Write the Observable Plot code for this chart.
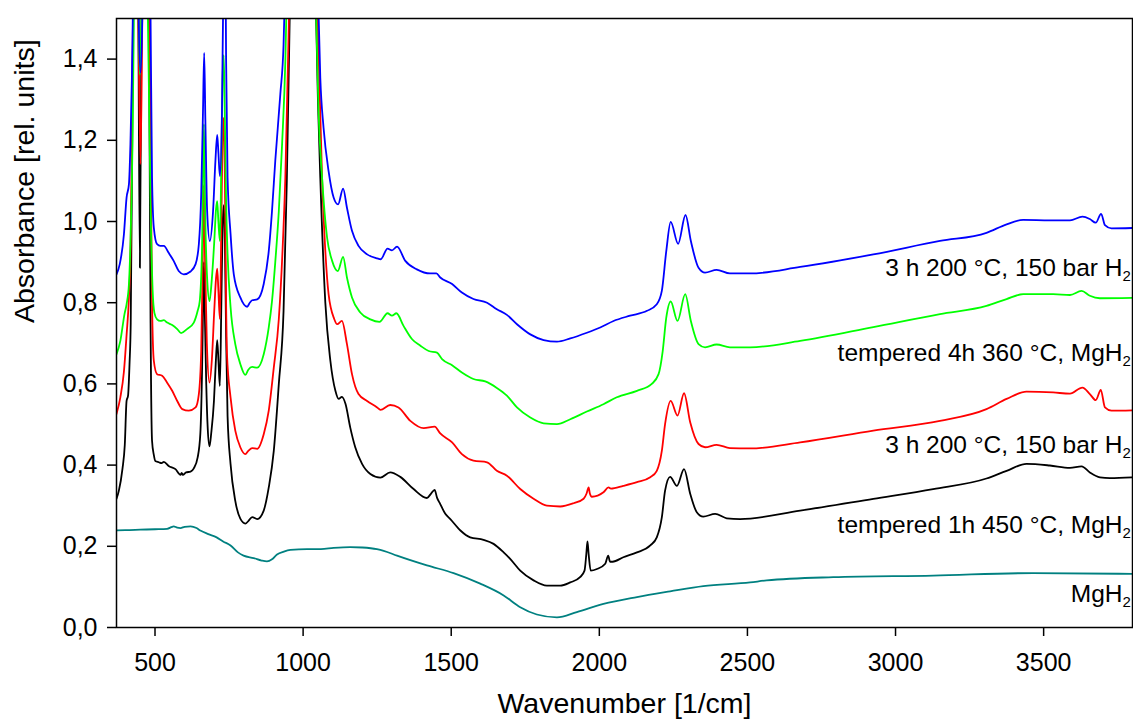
<!DOCTYPE html>
<html>
<head>
<meta charset="utf-8">
<script src="https://cdn.jsdelivr.net/npm/d3@7"></script>
<script src="https://cdn.jsdelivr.net/npm/@observablehq/plot@0.6"></script>
<style>
  html, body { margin: 0; padding: 0; background: #fff; }
  #chart { width: 1133px; height: 727px; }
</style>
</head>
<body>
<div id="chart"></div>
<script>
// ---- data (wavenumber [1/cm], absorbance) ----
const xTicks = [500, 1000, 1500, 2000, 2500, 3000, 3500];
const yTicks = [0, 0.2, 0.4, 0.6, 0.8, 1.0, 1.2, 1.4];
const xTitle = "Wavenumber [1/cm]";
const yTitle = "Absorbance [rel. units]";

const seriesNames = ["MgH2", "tempered 1h 450 °C, MgH2", "3 h 200 °C, 150 bar H2 (after 1h 450 °C)", "tempered 4h 360 °C, MgH2", "3 h 200 °C, 150 bar H2 (after 4h 360 °C)"];
const seriesColors = ["#008080", "#000000", "#ff0000", "#00ff00", "#0000ff"];

const labelText = ["3 h 200 °C, 150 bar H", "tempered 4h 360 °C, MgH", "3 h 200 °C, 150 bar H", "tempered 1h 450 °C, MgH", "MgH"];
const labelY = [0.886, 0.676, 0.45, 0.253, 0.081];

const teal = [[370,0.239],[400,0.240],[450,0.241],[500,0.242],[541,0.243],[555,0.247],[563,0.249],[575,0.246],[586,0.245],[600,0.248],[620,0.249],[640,0.245],[653,0.239],[680,0.23],[708,0.222],[730,0.212],[755,0.202],[780,0.185],[799,0.177],[833,0.171],[860,0.165],[878,0.163],[895,0.168],[912,0.18],[935,0.187],[957,0.191],[1013,0.193],[1060,0.193],[1103,0.196],[1159,0.198],[1200,0.197],[1249,0.193],[1272,0.189],[1317,0.177],[1418,0.153],[1508,0.134],[1598,0.108],[1677,0.079],[1733,0.05],[1789,0.032],[1857,0.025],[1924,0.038],[2014,0.058],[2127,0.075],[2239,0.089],[2351,0.102],[2509,0.111],[2565,0.116],[2790,0.124],[3127,0.128],[3465,0.134],[3801,0.132]];

const black = [[370,0.317],[378,0.337],[390,0.39],[398,0.45],[404,0.558],[409,0.571],[414,0.65],[418,0.75],[423,1.2],[427,1.6],[435,2.2],[443,1.6],[449,0.886],[455,1.6],[465,2.3],[476,1.8],[481,1.3],[485,0.75],[490,0.46],[496,0.425],[501,0.41],[513,0.407],[522,0.405],[530,0.408],[546,0.398],[569,0.39],[586,0.376],[590,0.381],[594,0.376],[605,0.382],[620,0.384],[631,0.392],[644,0.419],[653,0.477],[659,0.64],[662,0.78],[665,0.9],[668,0.78],[673,0.6],[678,0.49],[684,0.446],[690,0.48],[699,0.558],[705,0.65],[710,0.708],[714,0.66],[719,0.595],[724,0.8],[728,0.98],[732,1.04],[736,0.95],[740,0.72],[745,0.52],[755,0.403],[771,0.312],[788,0.268],[805,0.256],[815,0.262],[828,0.272],[845,0.267],[867,0.288],[884,0.345],[901,0.435],[918,0.6],[934,0.78],[945,1.1],[957,1.6],[980,2.5],[1020,2.5],[1041,1.6],[1050,1.3],[1058,1.108],[1075,0.8],[1092,0.657],[1109,0.583],[1120,0.563],[1131,0.568],[1143,0.551],[1159,0.493],[1176,0.444],[1199,0.403],[1227,0.378],[1261,0.369],[1294,0.382],[1328,0.371],[1373,0.341],[1418,0.319],[1432,0.33],[1444,0.339],[1452,0.32],[1463,0.304],[1480,0.28],[1497,0.267],[1531,0.239],[1564,0.222],[1609,0.216],[1643,0.206],[1677,0.185],[1699,0.169],[1733,0.14],[1778,0.116],[1823,0.103],[1868,0.103],[1902,0.111],[1935,0.124],[1950,0.14],[1956,0.18],[1960,0.212],[1964,0.18],[1971,0.14],[1992,0.144],[2020,0.157],[2030,0.177],[2036,0.162],[2045,0.162],[2081,0.173],[2127,0.185],[2172,0.202],[2194,0.222],[2211,0.271],[2222,0.337],[2239,0.371],[2262,0.349],[2286,0.39],[2307,0.329],[2329,0.284],[2351,0.273],[2391,0.28],[2430,0.269],[2475,0.267],[2678,0.288],[2925,0.317],[3127,0.341],[3307,0.367],[3375,0.386],[3442,0.403],[3521,0.399],[3589,0.393],[3628,0.397],[3656,0.382],[3690,0.37],[3724,0.368],[3801,0.37]];

const red = [[370,0.526],[383,0.567],[395,0.63],[404,0.72],[412,0.813],[418,0.95],[423,1.3],[427,1.6],[436,2.2],[444,1.5],[451,1.141],[457,1.5],[466,2.3],[478,1.8],[485,1.2],[490,0.8],[496,0.657],[507,0.624],[524,0.62],[541,0.603],[558,0.583],[575,0.558],[592,0.538],[614,0.534],[637,0.542],[648,0.575],[656,0.681],[661,0.9],[665,1.09],[669,0.9],[675,0.7],[684,0.603],[692,0.66],[700,0.78],[706,0.86],[710,0.884],[714,0.83],[719,0.76],[724,1.0],[728,1.2],[732,1.255],[736,1.1],[740,0.8],[743,0.673],[755,0.567],[771,0.485],[788,0.444],[805,0.427],[815,0.435],[828,0.442],[845,0.44],[867,0.476],[884,0.534],[901,0.64],[918,0.76],[930,0.92],[940,1.108],[955,1.6],[980,2.5],[1020,2.5],[1045,1.6],[1064,1.108],[1086,0.821],[1105,0.76],[1115,0.747],[1131,0.755],[1148,0.698],[1165,0.624],[1187,0.575],[1216,0.558],[1250,0.542],[1261,0.536],[1294,0.548],[1322,0.542],[1362,0.509],[1407,0.491],[1444,0.495],[1463,0.478],[1503,0.456],[1536,0.427],[1575,0.411],[1621,0.407],[1654,0.386],[1688,0.374],[1733,0.341],[1778,0.317],[1823,0.3],[1868,0.298],[1913,0.306],[1947,0.317],[1957,0.33],[1964,0.345],[1968,0.33],[1975,0.322],[2014,0.333],[2031,0.345],[2039,0.342],[2081,0.349],[2127,0.358],[2172,0.37],[2194,0.386],[2211,0.435],[2222,0.501],[2241,0.558],[2264,0.522],[2286,0.577],[2307,0.505],[2335,0.452],[2357,0.444],[2396,0.45],[2441,0.442],[2509,0.441],[2678,0.456],[2925,0.485],[3150,0.509],[3307,0.538],[3375,0.563],[3442,0.581],[3532,0.579],[3589,0.576],[3631,0.591],[3656,0.575],[3676,0.56],[3693,0.585],[3707,0.542],[3729,0.534],[3801,0.535]];

const green = [[370,0.673],[383,0.706],[397,0.772],[404,0.796],[412,0.846],[417,0.944],[424,1.19],[430,1.6],[438,2.2],[445,1.5],[449,1.362],[454,1.5],[463,2.3],[474,1.6],[480,1.3],[486,1.0],[492,0.83],[498,0.775],[507,0.759],[518,0.755],[530,0.757],[541,0.751],[558,0.745],[575,0.735],[588,0.725],[608,0.735],[631,0.751],[644,0.78],[651,0.804],[659,0.944],[665,1.24],[670,1.0],[676,0.86],[684,0.804],[692,0.86],[700,0.95],[706,1.03],[710,1.05],[714,1.0],[719,0.952],[724,1.15],[728,1.35],[732,1.41],[736,1.25],[740,1.05],[745,0.92],[755,0.79],[771,0.698],[788,0.649],[805,0.622],[815,0.635],[828,0.642],[845,0.64],[867,0.673],[884,0.739],[895,0.804],[906,0.9],[918,1.026],[929,1.19],[940,1.395],[946,1.6],[970,2.5],[1020,2.5],[1041,1.6],[1052,1.272],[1064,1.108],[1081,0.96],[1098,0.903],[1117,0.878],[1135,0.913],[1148,0.862],[1165,0.813],[1193,0.776],[1227,0.759],[1258,0.753],[1285,0.774],[1300,0.768],[1315,0.774],[1339,0.743],[1368,0.71],[1396,0.694],[1424,0.681],[1452,0.677],[1469,0.661],[1503,0.646],[1536,0.628],[1575,0.612],[1615,0.606],[1654,0.59],[1688,0.571],[1722,0.542],[1767,0.517],[1812,0.503],[1857,0.501],[1902,0.513],[1958,0.532],[2014,0.55],[2059,0.567],[2127,0.583],[2177,0.6],[2200,0.624],[2214,0.681],[2226,0.763],[2241,0.803],[2264,0.755],[2290,0.821],[2309,0.755],[2335,0.698],[2357,0.69],[2396,0.697],[2441,0.69],[2509,0.69],[2678,0.706],[2925,0.74],[3150,0.772],[3307,0.792],[3375,0.809],[3431,0.821],[3532,0.821],[3589,0.819],[3628,0.829],[3656,0.817],[3690,0.811],[3801,0.812]];

const blue = [[370,0.87],[381,0.895],[395,0.968],[404,1.059],[412,1.092],[417,1.19],[422,1.354],[427,1.6],[437,2.2],[445,1.5],[451,1.366],[457,1.5],[466,2.3],[478,1.9],[485,1.5],[490,1.108],[496,0.985],[507,0.944],[518,0.94],[530,0.94],[546,0.923],[563,0.903],[580,0.878],[597,0.87],[620,0.877],[637,0.895],[648,0.944],[656,1.067],[662,1.272],[666,1.415],[670,1.25],[676,1.026],[685,0.952],[696,1.026],[704,1.15],[710,1.213],[714,1.17],[719,1.112],[726,1.27],[731,1.6],[735,1.9],[740,1.4],[745,1.108],[755,0.97],[766,0.87],[788,0.813],[811,0.79],[820,0.8],[828,0.806],[845,0.808],[867,0.846],[884,0.927],[895,1.026],[906,1.149],[923,1.313],[934,1.436],[940,1.6],[960,2.5],[1030,2.5],[1049,1.6],[1058,1.354],[1069,1.231],[1086,1.124],[1103,1.059],[1118,1.042],[1135,1.081],[1148,1.034],[1165,0.977],[1187,0.94],[1216,0.919],[1250,0.909],[1262,0.907],[1285,0.933],[1300,0.929],[1317,0.938],[1345,0.903],[1384,0.882],[1429,0.872],[1450,0.872],[1463,0.862],[1503,0.846],[1536,0.825],[1575,0.809],[1621,0.8],[1654,0.784],[1688,0.77],[1722,0.747],[1767,0.722],[1812,0.708],[1857,0.704],[1902,0.712],[1958,0.726],[2003,0.739],[2048,0.755],[2104,0.768],[2161,0.78],[2194,0.796],[2211,0.829],[2226,0.927],[2241,0.999],[2266,0.945],[2291,1.016],[2309,0.952],[2335,0.886],[2357,0.874],[2396,0.881],[2441,0.872],[2509,0.872],[2678,0.888],[2925,0.919],[3150,0.952],[3307,0.972],[3375,0.993],[3431,1.004],[3521,1.003],[3589,1.003],[3631,1.012],[3656,1.006],[3676,0.997],[3694,1.019],[3707,0.991],[3729,0.983],[3801,0.984]];

// ---- build ----
const seriesData = [teal, black, red, green, blue];
const font = "'Liberation Sans', Arial, Helvetica, sans-serif";
const labels = labelText.map((t, i) => ({t, y: labelY[i]}));

const lineMarks = seriesData.map((s, i) =>
  Plot.line(s, {x: d => d[0], y: d => d[1], stroke: seriesColors[i], strokeWidth: 1.8, curve: "monotone-x", clip: true})
);

const chart = Plot.plot({
  width: 1133,
  height: 727,
  marginLeft: 116,
  marginTop: 18,
  marginRight: 1,
  marginBottom: 100,
  style: {fontFamily: font, fontSize: "25px", color: "#000", background: "#fff"},
  x: {domain: [370, 3800]},
  y: {domain: [0, 1.5]},
  marks: [
    Plot.axisX({ticks: xTicks, tickSize: 9, tickPadding: 17, strokeWidth: 1.5, label: null, fontSize: 25,
      tickFormat: d => String(d)}),
    Plot.axisY({ticks: yTicks, tickSize: 9, tickPadding: 10, strokeWidth: 1.5, label: null, fontSize: 25,
      tickFormat: d => d.toFixed(1).replace(".", ",")}),
    ...lineMarks,
    Plot.frame({stroke: "#000", strokeWidth: 1.5}),
    Plot.text(labels, {x: 3800, y: "y", text: "t", textAnchor: "end", dx: -10, fontSize: 24.5, fill: "#000"}),
    Plot.text(labels, {x: 3800, y: "y", text: () => "2", textAnchor: "start", dx: -10, dy: 8, fontSize: 15, fill: "#000"}),
    Plot.text([xTitle], {frameAnchor: "bottom", text: d => d, dy: 85, fontSize: 28.5, fill: "#000"}),
    Plot.text([yTitle], {frameAnchor: "left", text: d => d, dx: -92, rotate: -90, fontSize: 28.5, fill: "#000"})
  ]
});

document.getElementById("chart").appendChild(chart);
</script>
</body>
</html>
